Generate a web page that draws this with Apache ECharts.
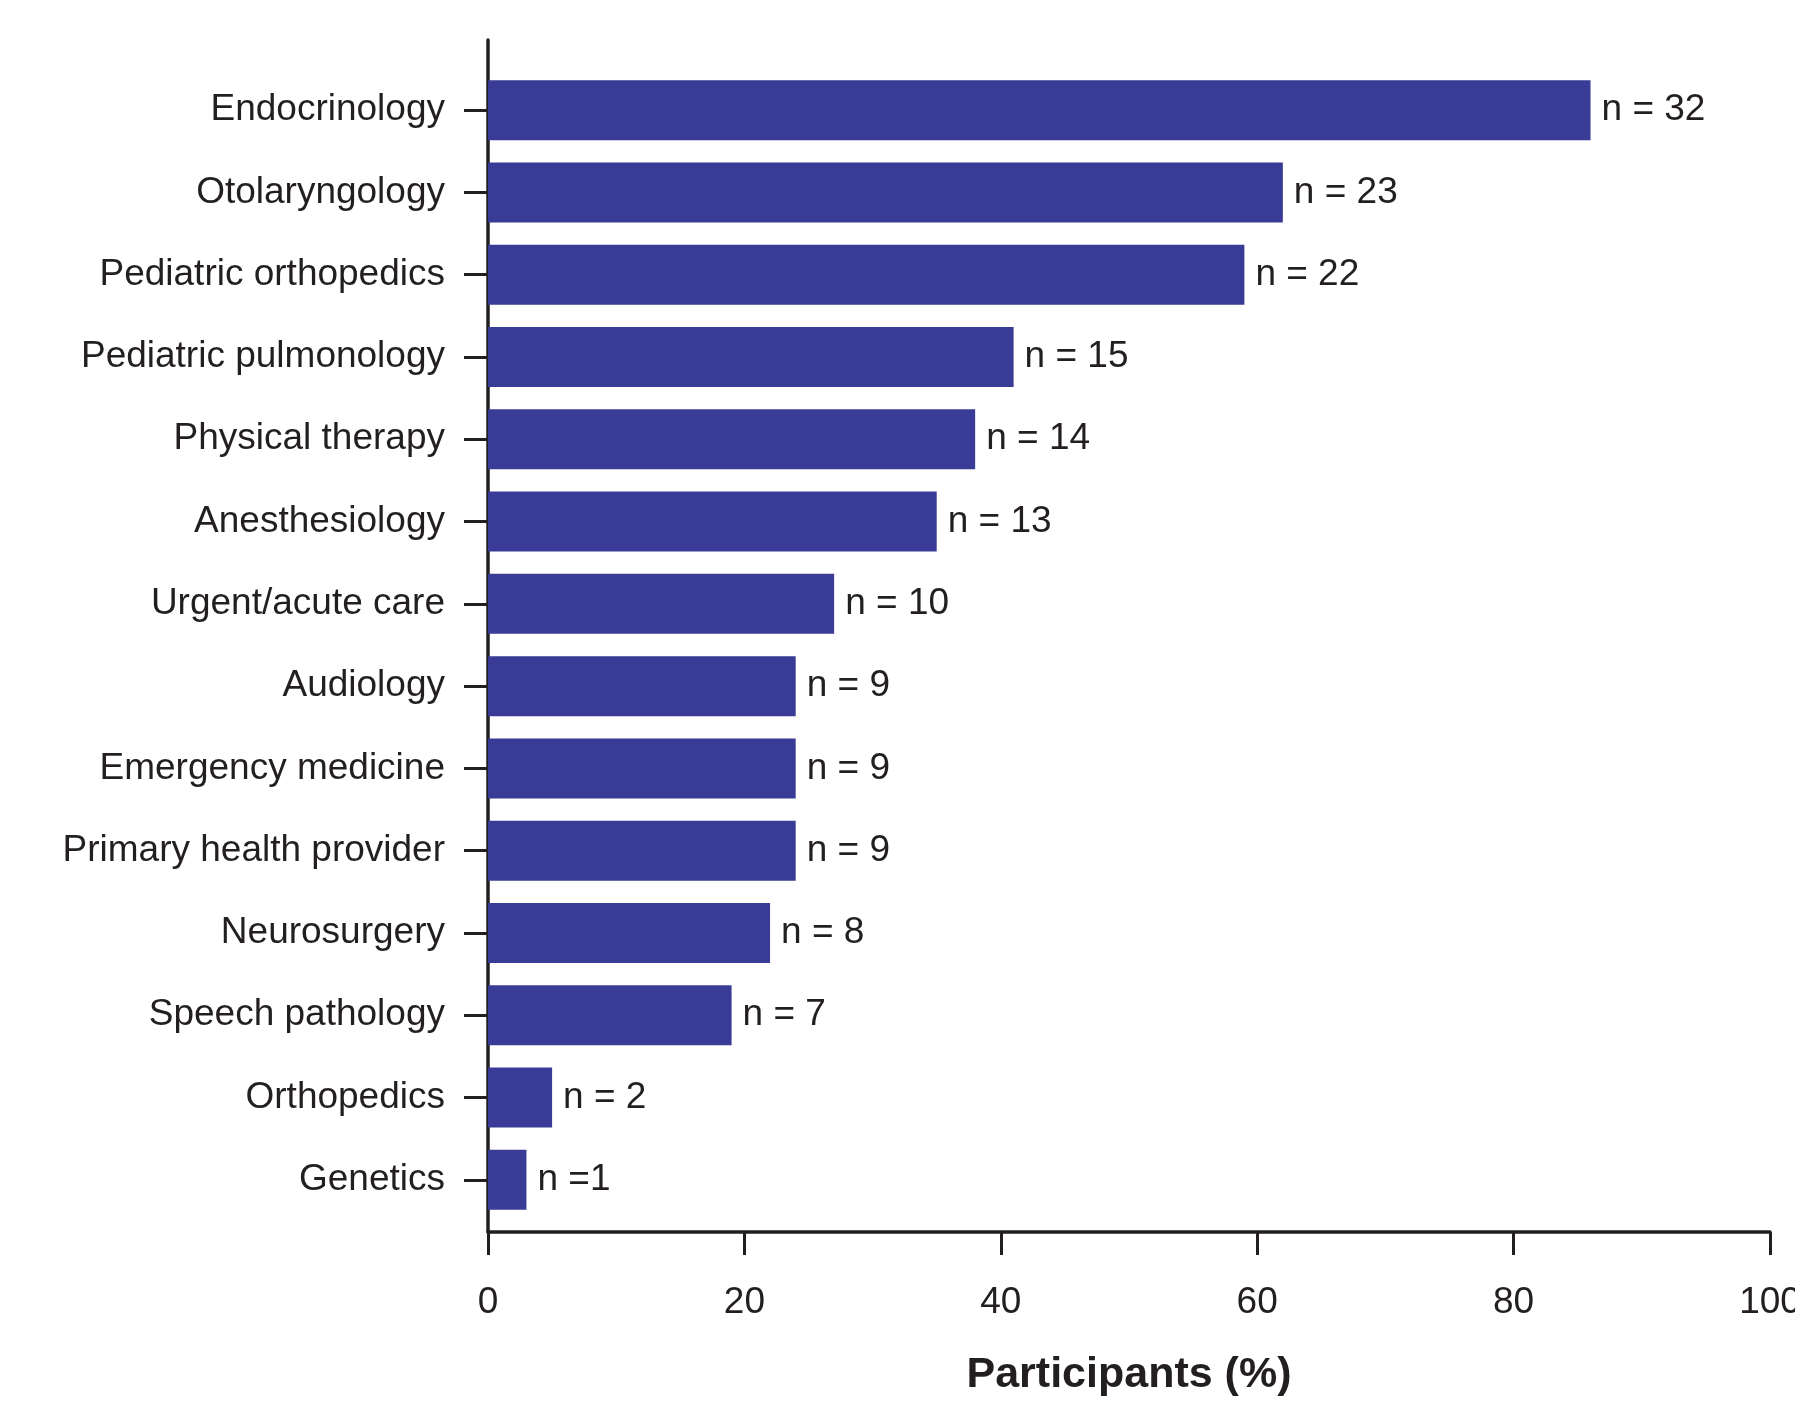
<!DOCTYPE html>
<html>
<head>
<meta charset="utf-8">
<script src="https://cdn.jsdelivr.net/npm/echarts@6/dist/echarts.min.js"></script>
<style>
html,body{margin:0;padding:0;background:#fff;}
#chart{width:1795px;height:1403px;}
</style>
</head>
<body>
<div id="chart"></div>
<script>
const categories = ["Endocrinology","Otolaryngology","Pediatric orthopedics","Pediatric pulmonology","Physical therapy","Anesthesiology","Urgent/acute care","Audiology","Emergency medicine","Primary health provider","Neurosurgery","Speech pathology","Orthopedics","Genetics"];
const percentValues = [86.0, 62.0, 59.0, 41.0, 38.0, 35.0, 27.0, 24.0, 24.0, 24.0, 22.0, 19.0, 5.0, 3.0];
const countLabels = ["n = 32","n = 23","n = 22","n = 15","n = 14","n = 13","n = 10","n = 9","n = 9","n = 9","n = 8","n = 7","n = 2","n =1"];
const xTicks = [0, 20, 40, 60, 80, 100];
const xAxisTitle = "Participants (%)";

const ink = "#231f20";
const barColor = "#393b96";
const font = "'Liberation Sans', Arial, sans-serif";

const chart = echarts.init(document.getElementById('chart'), null, {renderer:'canvas'});
chart.setOption({
  backgroundColor: '#ffffff',
  animation: false,
  grid: [
    {left: 488, right: 25, top: 69, height: 1152, containLabel: false, outerBoundsMode: 'none'},
    {left: 488, right: 25, top: 40, height: 1192, containLabel: false, outerBoundsMode: 'none'}
  ],
  xAxis: [
    {gridIndex: 0, type: 'value', min: xTicks[0], max: xTicks[xTicks.length-1], interval: 20,
     show: false},
    {gridIndex: 1, type: 'value', min: xTicks[0], max: xTicks[xTicks.length-1], interval: 20,
     position: 'bottom',
     axisLine: {show: true, lineStyle: {color: ink, width: 3.5}},
     axisTick: {show: true, length: 23, lineStyle: {color: ink, width: 3}},
     axisLabel: {show: true, margin: 52, color: ink, fontSize: 37, fontFamily: font},
     splitLine: {show: false},
     name: xAxisTitle, nameLocation: 'middle', nameGap: 122,
     nameTextStyle: {color: ink, fontSize: 43, fontWeight: 'bold', fontFamily: font}}
  ],
  yAxis: [
    {gridIndex: 0, type: 'category', data: categories, inverse: true,
     axisLine: {show: false},
     axisTick: {show: true, alignWithLabel: true, length: 24, lineStyle: {color: ink, width: 3}},
     axisLabel: {margin: 43, color: ink, fontSize: 37, fontFamily: font},
     splitLine: {show: false}},
    {gridIndex: 1, type: 'value', min: 0, max: 1,
     axisLine: {show: true, lineStyle: {color: ink, width: 3.5}},
     axisTick: {show: false}, axisLabel: {show: false}, splitLine: {show: false}}
  ],
  series: [{
    type: 'bar',
    xAxisIndex: 0, yAxisIndex: 0,
    data: percentValues,
    barWidth: 60,
    itemStyle: {color: barColor},
    label: {show: true, position: 'right', distance: 11,
      color: ink, fontSize: 37, fontFamily: font,
      formatter: p => countLabels[p.dataIndex]}
  }]
});
</script>
</body>
</html>
